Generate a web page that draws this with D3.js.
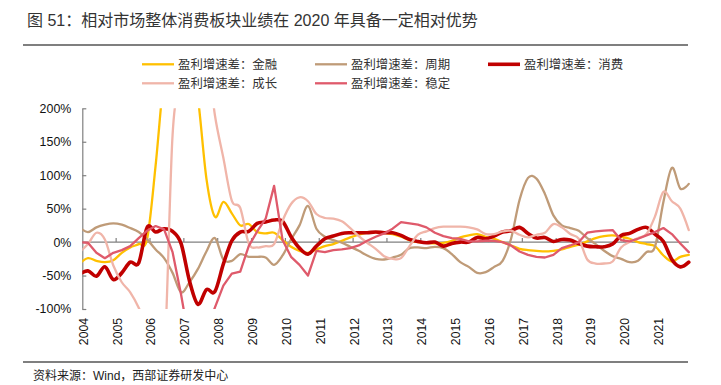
<!DOCTYPE html>
<html><head><meta charset="utf-8">
<script src="https://cdn.jsdelivr.net/npm/d3@7"></script>
<style>html,body{margin:0;padding:0;background:#fff;} svg{display:block;}</style>
</head><body><svg id="c" width="721" height="385"></svg>
<script>
const titleText = "图 51：相对市场整体消费板块业绩在 2020 年具备一定相对优势";
const sourceText = "资料来源：Wind，西部证券研发中心";
const seriesNames = ["盈利增速差：金融","盈利增速差：周期","盈利增速差：消费","盈利增速差：成长","盈利增速差：稳定"];
const seriesColors = ["#FFC000","#BF9B78","#C00000","#F0B5A9","#DF5A6B"];
const yTicks = [-100,-50,0,50,100,150,200];
const yearLabels = ["2004","2005","2006","2007","2008","2009","2010","2011","2012","2013","2014","2015","2016","2017","2018","2019","2020","2021"];
// quarter-end periods, Dec 2003 .. Dec 2021
const periods = ["2003-12"].concat(d3.range(2004,2022).flatMap(y => ["03","06","09","12"].map(m => y+"-"+m)));

// values in %
const finance = [-32,-24,-28,-30,-27,-16,-8,-3,5,115, 250,330,340,280,215,95,38,60,43,25, 27,15,13,14,3,-7,-13,-16,-11,-6, -3,2,7,11,14,15,14,12,8,3, 0,-1,-2,-1,2,7,10,12,8,5, 0,-5,-10,-12,-13,-14,-13,-11,-7,-4, 1,6,9,10,8,5,0,-3,-6,-20, -29,-22,-19];
const cyclical = [22,15,22,26,28,26,21,15,4,-11, -24,-46,-75,-60,-40,-14,6,-26,-28,-18, -22,-22,-23,-34,-20,4,25,54,20,8, 3,-1,-7,-13,-20,-25,-26,-23,-19,-9, -8,-9,-7,-9,-18,-30,-37,-46,-45,-37, -28,5,63,96,95,72,40,25,21,17, 6,-3,-13,-21,-25,-30,-28,-15,-7,60, 111,80,87];
const consumer = [-48,-43,-51,-37,-56,-46,-30,-31,22,15, 20,16,-2,-58,-93,-71,-74,-33,2,15, 16,28,30,33,31,8,-9,-18,-6,5, 9,13,14,14,14,15,14,14,10,4, 1,-1,0,-6,-2,0,0,7,5,9, 15,17,22,13,6,7,1,4,3,-2, -6,-7,-7,-3,10,13,19,22,12,1, -26,-37,-30];
const growth = [-15,-3,14,4,-35,-60,-75,-98,-130,-150, -180,160,240,300,320,290,190,126,62,51, -2,-8,-6,-3,32,57,67,61,42,36, 35,31,21,9,-1,-10,-21,-25,-24,-6, 11,16,21,23,23,23,22,19,12,12, 16,17,11,7,11,14,27,22,12,5, -26,-32,-32,-29,-8,0,6,12,38,75, 61,50,18];
const stable = [0,-1,-16,-24,-16,-12,-6,6,17,24, 19,-15,-78,-150,-170,-130,-98,-65,-47,-44, -6,16,35,84,3,-22,-34,-50,-13,-15, -12,-11,-9,-5,2,8,13,20,30,28, 26,22,14,9,6,5,1,1,2,2, 0,-5,-14,-19,-22,-23,-19,-9,-5,0, 14,16,17,18,3,1,5,10,15,21, 12,-2,-15];

const seriesData = [finance, cyclical, consumer, growth, stable];
const seriesWidth = [2.3, 2.3, 3.6, 2.3, 2.3];
const seriesLinear = [false, false, false, false, true];

const svg = d3.select("#c");
const FONT_LAT = "'Liberation Sans', Arial, 'Noto Sans CJK SC', sans-serif";
const FONT_CJK = "'Noto Sans CJK SC', 'Liberation Sans', sans-serif";

const toT = p => { const [y,m] = p.split("-").map(Number); return y + (m-1)/12; };
const tVals = periods.map(toT);

const x = d3.scaleLinear().domain([2004, 2022]).range([82.3, 82.3 + 18*33.85]);
const y = d3.scaleLinear().domain([-100, 200]).range([309, 108.3]);

// title
svg.append("text").attr("x", 27).attr("y", 26).attr("font-family", FONT_LAT)
  .attr("font-size", 16).attr("fill", "#333").text(titleText);
svg.append("line").attr("x1", 23).attr("x2", 688).attr("y1", 45).attr("y2", 45)
  .attr("stroke", "#7f7f7f").attr("stroke-width", 2);

// legend
const legendPos = [[142,64.3],[315,64.3],[488,64.3],[142,83.3],[315,83.3]];
seriesNames.forEach((n,i) => {
  const [lx, ly] = legendPos[i];
  svg.append("line").attr("x1", lx).attr("x2", lx+32).attr("y1", ly).attr("y2", ly)
    .attr("stroke", seriesColors[i]).attr("stroke-width", seriesWidth[i]);
  svg.append("text").attr("x", lx+36).attr("y", ly).attr("dy", "0.36em")
    .attr("font-family", FONT_CJK).attr("font-size", 12.4).attr("fill", "#333").text(n);
});

// y axis
const yAxis = d3.axisLeft(y).tickValues(yTicks).tickFormat(d => d + "%")
  .tickSize(-4).tickSizeOuter(0).tickPadding(11);
const gy = svg.append("g").attr("transform", `translate(${x(2004)},0)`).call(yAxis);
gy.select(".domain").attr("stroke", "#808080").attr("stroke-width", 1.2);
gy.selectAll(".tick line").attr("stroke", "#808080").attr("stroke-width", 1.2);
gy.selectAll("text").attr("font-family", FONT_LAT).attr("font-size", 12.4).attr("fill", "#111");

// x axis at zero
const tEnd = tVals[tVals.length-1];
svg.append("line").attr("x1", x(2004)).attr("x2", x(tEnd)).attr("y1", y(0)).attr("y2", y(0))
  .attr("stroke", "#808080").attr("stroke-width", 1.2);
const yearNums = yearLabels.map(Number);
svg.append("g").selectAll("line").data(yearNums.slice(1)).join("line")
  .attr("x1", d => x(d)).attr("x2", d => x(d)).attr("y1", y(0)).attr("y2", y(0)-4)
  .attr("stroke", "#808080").attr("stroke-width", 1.2);
svg.append("g").selectAll("text").data(yearLabels).join("text")
  .attr("transform", d => `translate(${x(+d)+1},318) rotate(-90)`)
  .attr("text-anchor", "end").attr("dy", "0.36em")
  .attr("font-family", FONT_LAT).attr("font-size", 12.2).attr("fill", "#111").text(d => d);

// clip
svg.append("clipPath").attr("id", "plot").append("rect")
  .attr("x", x(2004)).attr("y", y(200)).attr("width", 640).attr("height", y(-100) - y(200));

const gLines = svg.append("g").attr("clip-path", "url(#plot)");
seriesData.forEach((vals, i) => {
  const line = d3.line().x((d,j) => x(tVals[j])).y(d => y(d))
    .curve(seriesLinear[i] ? d3.curveLinear : d3.curveCardinal.tension(0));
  gLines.append("path").datum(vals).attr("d", line).attr("fill", "none")
    .attr("stroke", seriesColors[i]).attr("stroke-width", seriesWidth[i])
    .attr("stroke-linejoin", "round").attr("stroke-linecap", "round");
});

// bottom rule & source
svg.append("line").attr("x1", 23).attr("x2", 688).attr("y1", 362).attr("y2", 362)
  .attr("stroke", "#555").attr("stroke-width", 1.3);
svg.append("text").attr("x", 33).attr("y", 376).attr("dy", "0.36em")
  .attr("font-family", FONT_LAT).attr("font-size", 12).attr("fill", "#222").text(sourceText);
</script></body></html>
